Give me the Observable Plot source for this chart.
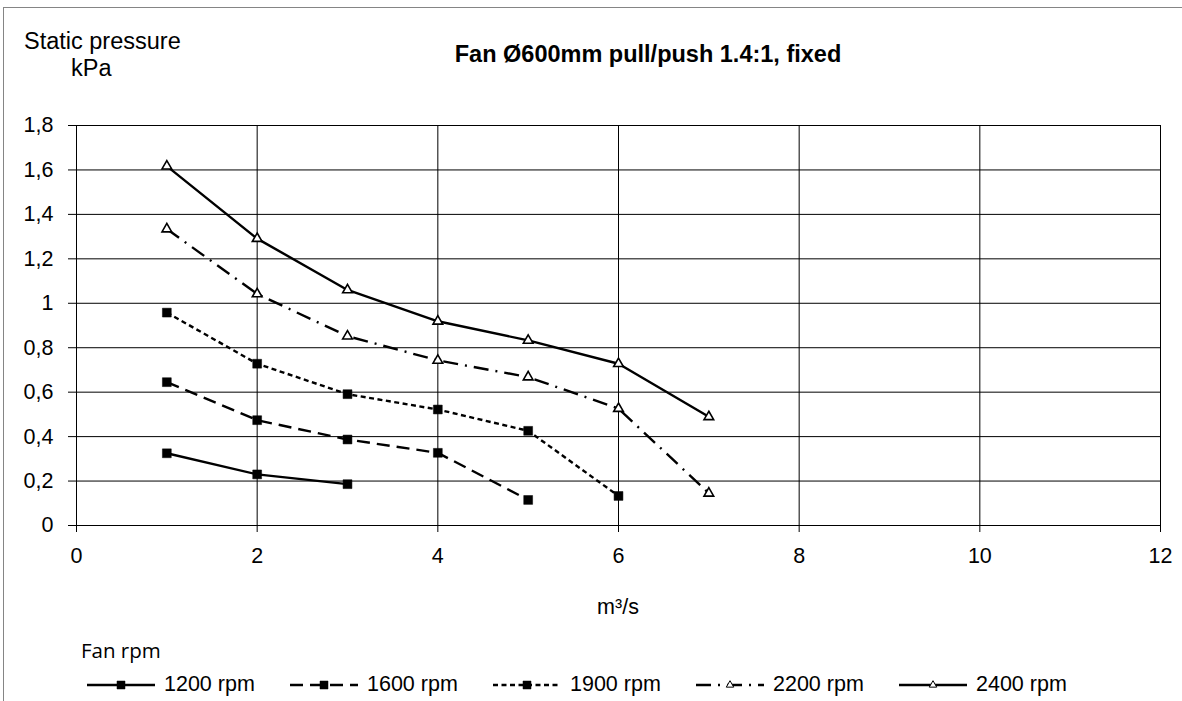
<!DOCTYPE html>
<html>
<head>
<meta charset="utf-8">
<script src="https://cdn.jsdelivr.net/npm/d3@7"></script>
<script src="https://cdn.jsdelivr.net/npm/@observablehq/plot@0.6"></script>
<style>
  html, body { margin: 0; padding: 0; background: #fff; }
  body { font-family: "Liberation Sans", Arial, sans-serif; color: #000; }
  #wrap { position: relative; width: 1182px; height: 701px; overflow: hidden; background: #fff; }
  #frame { position: absolute; left: 3px; top: 7px; width: 1400px; height: 900px;
           border-top: 1px solid #858585; border-left: 1px solid #858585; }
  .t { position: absolute; white-space: nowrap; line-height: 1; }
  #chart { position: absolute; left: 0; top: 100px; }
  #legend { position: absolute; left: 0; top: 673px; width: 1182px; height: 24px; }
  .item { position: absolute; top: 0; height: 24px; display: flex; align-items: center; }
  .item span { font-size: 21.5px; line-height: 1; margin-left: 9px; }
</style>
</head>
<body>
<div id="wrap">
  <div id="frame"></div>
  <div class="t" style="left:24px; top:30px; font-size:23.5px;">Static pressure</div>
  <div class="t" style="left:71px; top:57px; font-size:23.5px;">kPa</div>
  <div class="t" id="title" style="left:648px; top:43px; font-size:23.5px; font-weight:bold; transform:translateX(-50%);">Fan Ø600mm pull/push 1.4:1, fixed</div>
  <div id="chart"></div>
  <div class="t" style="left:618px; top:597px; font-size:21.5px; transform:translateX(-50%);">m³/s</div>
  <div class="t" style="left:81px; top:640px; font-size:20.5px; font-family:'Liberation Sans Narrow','Open Sans',sans-serif;">Fan rpm</div>
  <div id="legend"></div>
</div>
<script>
// ---- data ----
const flow = [1, 2, 3, 4, 5, 6, 7];                       // m³/s
const rpm1200 = [0.325, 0.230, 0.186];
const rpm1600 = [0.645, 0.474, 0.387, 0.327, 0.115];
const rpm1900 = [0.958, 0.728, 0.591, 0.522, 0.426, 0.133];
const rpm2200 = [1.334, 1.042, 0.852, 0.743, 0.668, 0.526, 0.145];
const rpm2400 = [1.617, 1.291, 1.060, 0.919, 0.833, 0.728, 0.489];
const seriesNames = ["1200 rpm", "1600 rpm", "1900 rpm", "2200 rpm", "2400 rpm"];
const seriesValues = [rpm1200, rpm1600, rpm1900, rpm2200, rpm2400];
const xTicks = [0, 2, 4, 6, 8, 10, 12];
const yTicks = [0, 0.2, 0.4, 0.6, 0.8, 1, 1.2, 1.4, 1.6, 1.8];

// ---- styles per series ----
const dashes = {"1200 rpm": null, "1600 rpm": "13,7", "1900 rpm": "5,3.5", "2200 rpm": "15,7,2,7", "2400 rpm": null};
const symbols = {"1200 rpm": "square", "1600 rpm": "square", "1900 rpm": "square", "2200 rpm": "triangle", "2400 rpm": "triangle"};

const rows = seriesNames.flatMap((name, i) =>
  seriesValues[i].map((p, j) => ({series: name, q: flow[j], p})));

const fmt = d => String(+d.toFixed(1)).replace(".", ",");

const marks = [
  Plot.gridY(yTicks, {stroke: "#000", strokeOpacity: 1, strokeWidth: 1}),
  Plot.gridX(xTicks, {stroke: "#000", strokeOpacity: 1, strokeWidth: 1}),
  Plot.axisY(yTicks, {tickSize: 8, tickPadding: 15, tickFormat: fmt, fontSize: 21.5, label: null, stroke: "#000"}),
  Plot.axisX(xTicks, {tickSize: 7, tickPadding: 15, tickFormat: d => String(d), fontSize: 21.5, label: null, stroke: "#000"})
];
for (const name of seriesNames) {
  const data = rows.filter(d => d.series === name);
  marks.push(Plot.line(data, {x: "q", y: "p", stroke: "#000", strokeWidth: 2.4,
    strokeDasharray: dashes[name] || undefined, strokeLinecap: "butt", strokeLinejoin: "miter"}));
}
for (const name of seriesNames) {
  const data = rows.filter(d => d.series === name);
  const tri = symbols[name] === "triangle";
  marks.push(Plot.dot(data, {x: "q", y: "p", symbol: symbols[name],
    r: tri ? 3.6 : 5,
    fill: tri ? "#fff" : "#000", stroke: "#000", strokeWidth: tri ? 1.6 : 0.5}));
}

const chart = Plot.plot({
  width: 1182,
  height: 450,
  marginLeft: 76,
  marginRight: 22,
  marginTop: 25,
  marginBottom: 25,
  style: {fontFamily: "'Liberation Sans', Arial, sans-serif", color: "#000", background: "transparent", overflow: "visible"},
  x: {domain: [0, 12]},
  y: {domain: [0, 1.8]},
  marks
});
document.getElementById("chart").appendChild(chart);

// ---- legend ----
const legend = d3.select("#legend");
seriesNames.forEach((name, i) => {
  const item = legend.append("div").attr("class", "item").style("left", (87 + i * 203) + "px");
  const svg = item.append("svg").attr("width", 68).attr("height", 24);
  svg.append("line").attr("x1", 0).attr("x2", 68).attr("y1", 12).attr("y2", 12)
    .attr("stroke", "#000").attr("stroke-width", 2.4)
    .attr("stroke-dasharray", dashes[name] ? dashes[name] : null);
  const tri = symbols[name] === "triangle";
  svg.append("path")
    .attr("transform", "translate(34,12)")
    .attr("d", d3.symbol(tri ? d3.symbolTriangle : d3.symbolSquare, tri ? 24 : 64)())
    .attr("fill", tri ? "#fff" : "#000").attr("stroke", "#000").attr("stroke-width", tri ? 1 : 0.5);
  item.append("span").text(name);
});
</script>
</body>
</html>
